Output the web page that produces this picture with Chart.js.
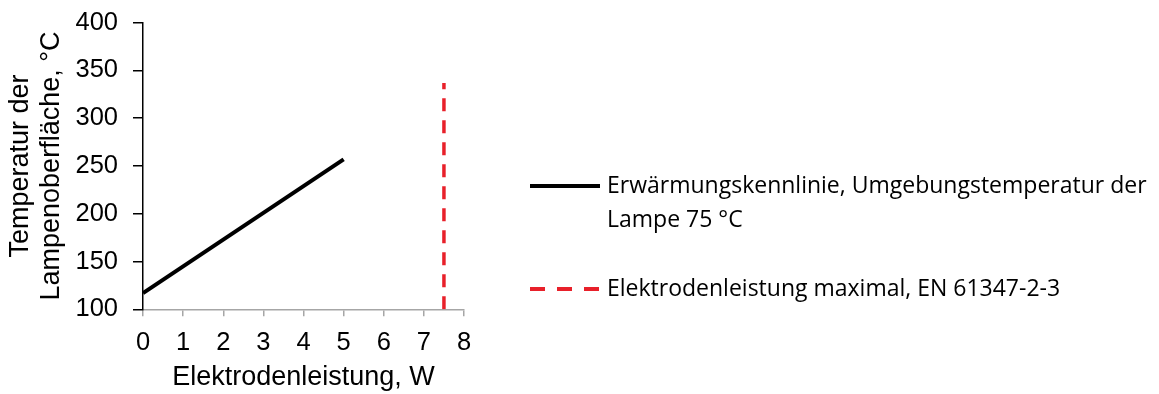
<!DOCTYPE html>
<html>
<head>
<meta charset="utf-8">
<script src="https://cdn.jsdelivr.net/npm/chart.js@4.4.1/dist/chart.umd.min.js"></script>
<style>
  html, body { margin: 0; padding: 0; background: #fff; }
  #wrap { width: 1159px; height: 394px; }
</style>
</head>
<body>
<div id="wrap"><canvas id="graphique"></canvas></div>
<script>
// Données
const leistungKennlinie = [0, 5];
const temperaturKennlinie = [117, 257];
const leistungMax = [7.5, 7.5];
const temperaturMax = [100, 337];
const xTicks = [0, 1, 2, 3, 4, 5, 6, 7, 8];
const yTicks = [100, 150, 200, 250, 300, 350, 400];

const labelKennlinie = ['Erwärmungskennlinie, Umgebungstemperatur der', 'Lampe 75 °C'];
const labelMax = ['Elektrodenleistung maximal, EN 61347-2-3'];

function paires(xs, ys) {
    return xs.map((x, i) => ({ x: x, y: ys[i] }));
}

const policeAxes = '"Liberation Sans", Arial, sans-serif';

// Légende dessinée à droite (texte sur plusieurs lignes)
const legendeDroite = {
    id: 'legendeDroite',
    afterDraw(chart) {
        const ctx = chart.ctx;
        const x0 = 530, longueur = 70, xTexte = 607;
        const lignes = [186, 289];
        ctx.save();
        ctx.font = '23px "Open Sans", sans-serif';
        ctx.textBaseline = 'middle';
        ctx.fillStyle = '#000';
        chart.data.datasets.forEach((ds, i) => {
            const y = lignes[i];
            ctx.strokeStyle = ds.borderColor;
            ctx.lineWidth = 4;
            ctx.setLineDash(ds.legendDash || []);
            ctx.beginPath();
            ctx.moveTo(x0, y);
            ctx.lineTo(x0 + longueur, y);
            ctx.stroke();
            ctx.setLineDash([]);
            ds.lignesLabel.forEach((t, j) => ctx.fillText(t, xTexte, y + j * 34));
        });
        ctx.restore();
    }
};

new Chart(document.getElementById('graphique'), {
    type: 'scatter',
    data: {
        datasets: [{
            label: labelKennlinie.join(' '),
            lignesLabel: labelKennlinie,
            data: paires(leistungKennlinie, temperaturKennlinie),
            showLine: true,
            borderColor: '#000000',
            borderWidth: 4,
            pointRadius: 0,
            legendDash: []
        }, {
            label: labelMax.join(' '),
            lignesLabel: labelMax,
            data: paires(leistungMax, temperaturMax),
            showLine: true,
            borderColor: '#e8202a',
            borderWidth: 3.5,
            borderDash: [13, 9],
            pointRadius: 0,
            legendDash: [15, 12]
        }]
    },
    options: {
        responsive: true,
        maintainAspectRatio: false,
        animation: false,
        layout: { padding: { top: 22.7, right: 695, bottom: 0, left: 0 } },
        plugins: {
            legend: { display: false },
            tooltip: { enabled: false }
        },
        scales: {
            x: {
                type: 'linear',
                min: 0, max: 8,
                afterBuildTicks: s => { s.ticks = xTicks.map(v => ({ value: v })); },
                afterFit: s => { s.height = 84.7; },
                border: { color: '#a6a6a6', width: 1.5 },
                grid: { drawOnChartArea: false, drawTicks: true, tickLength: 7, color: '#a6a6a6', lineWidth: 1.5 },
                ticks: { color: '#000', padding: 11, font: { family: policeAxes, size: 25.5 } },
                title: { display: true, text: 'Elektrodenleistung, W', color: '#000', padding: { top: 0, bottom: 0 },
                         font: { family: policeAxes, size: 27 } }
            },
            y: {
                type: 'linear',
                min: 100, max: 400,
                afterBuildTicks: s => { s.ticks = yTicks.map(v => ({ value: v })); },
                afterFit: s => { s.width = 143; s.paddingTop = 0; s.paddingBottom = 0; },
                border: { color: '#000', width: 1.5 },
                grid: { drawOnChartArea: false, drawTicks: true, tickLength: 10, color: '#000', lineWidth: 1.5 },
                ticks: { color: '#000', padding: 15, font: { family: policeAxes, size: 25.5 } },
                title: { display: true, text: ['Temperatur der', 'Lampenoberfläche, °C'], color: '#000', padding: { top: 5, bottom: 0 },
                         font: { family: policeAxes, size: 27, lineHeight: 1.15 } }
            }
        }
    },
    plugins: [legendeDroite]
});
</script>
</body>
</html>
